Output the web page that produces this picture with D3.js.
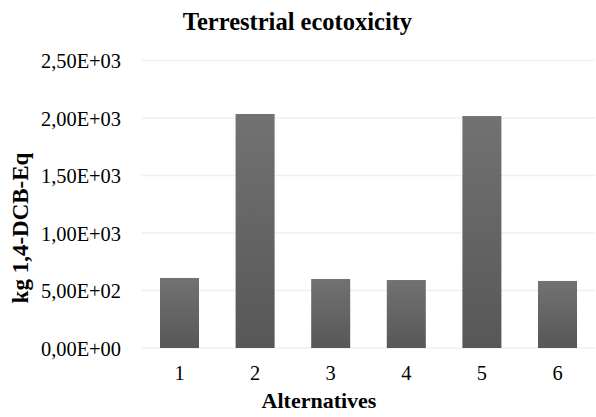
<!DOCTYPE html>
<html><head><meta charset="utf-8">
<script src="https://cdn.jsdelivr.net/npm/d3@7"></script>
<style>body{margin:0;background:#fff}svg{display:block}</style>
</head><body><svg id="c" width="596" height="417"></svg>
<script>
const categories = ["1","2","3","4","5","6"];
const values = [609, 2035, 600, 591, 2017, 583];
const yTicks = [0, 500, 1000, 1500, 2000, 2500];
const yTickLabels = ["0,00E+00","5,00E+02","1,00E+03","1,50E+03","2,00E+03","2,50E+03"];
const title = "Terrestrial ecotoxicity";
const xTitle = "Alternatives";
const yTitle = "kg 1,4-DCB-Eq";

const FONT = "Liberation Serif";
const svg = d3.select("#c");
const x = d3.scaleBand().domain(categories).range([141.7, 595.3]).paddingInner(0.484).paddingOuter(0.242);
const y = d3.scaleLinear().domain([0, 2500]).range([348, 60.5]);

const defs = svg.append("defs");
const g = defs.append("linearGradient").attr("id","bg").attr("x1",0).attr("y1",0).attr("x2",0).attr("y2",1);
g.append("stop").attr("offset","0%").attr("stop-color","#727272");
g.append("stop").attr("offset","100%").attr("stop-color","#575757");

svg.append("g").selectAll("line").data(yTicks).join("line")
  .attr("x1",141.7).attr("x2",595).attr("y1",d=>y(d)).attr("y2",d=>y(d))
  .attr("stroke","#efefef").attr("stroke-width",1.5);

svg.append("g").selectAll("text").data(yTicks).join("text")
  .attr("font-family",FONT)
  .attr("x",121).attr("y",d=>y(d)+7.5).attr("text-anchor","end").attr("font-size",20.4)
  .text((d,i)=>yTickLabels[i]);

svg.append("g").selectAll("rect").data(values).join("rect")
  .attr("x",(d,i)=>x(categories[i])).attr("width",x.bandwidth())
  .attr("y",d=>y(d)).attr("height",d=>y(0)-y(d)).attr("fill","url(#bg)");

svg.append("g").selectAll("text").data(categories).join("text")
  .attr("font-family",FONT)
  .attr("x",d=>x(d)+x.bandwidth()/2).attr("y",380).attr("text-anchor","middle").attr("font-size",20.4)
  .text(d=>d);

svg.append("text").attr("font-family",FONT).attr("x",297.5).attr("y",30).attr("text-anchor","middle").attr("font-size",24.5).attr("font-weight","bold").text(title);
svg.append("text").attr("font-family",FONT).attr("x",319).attr("y",408).attr("text-anchor","middle").attr("font-size",22).attr("font-weight","bold").text(xTitle);
svg.append("text").attr("font-family",FONT).attr("transform","translate(28,228) rotate(-90)").attr("text-anchor","middle").attr("font-size",23).attr("font-weight","bold").text(yTitle);
</script></body></html>
